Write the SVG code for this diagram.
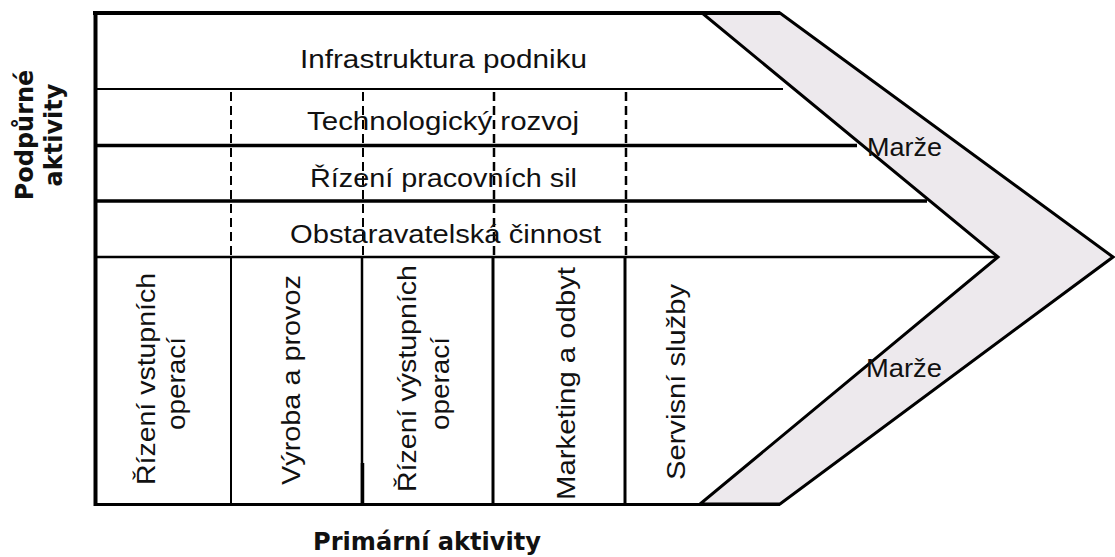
<svg xmlns="http://www.w3.org/2000/svg" width="1115" height="557" viewBox="0 0 1115 557">
<style>
.t{font-family:"Liberation Sans",Arial,sans-serif;font-size:25px;fill:#111}
.lab{font-family:"DejaVu Sans",Verdana,sans-serif;font-weight:bold;font-size:24px;fill:#111}
.ln{stroke:#000;fill:none;stroke-linecap:butt}
.dash{stroke:#000;fill:none;stroke-dasharray:9 5}
</style>
<rect width="1115" height="557" fill="#fff"/>
<g id="margin">
<polygon points="702,13 780,13 1113,257 780,504 700,504 998,257" fill="#EDE9ED" stroke="#000" stroke-width="3" stroke-linejoin="miter"/>
<text class="t" x="867" y="156" textLength="75" lengthAdjust="spacingAndGlyphs">Marže</text>
<text class="t" x="866" y="377" textLength="76" lengthAdjust="spacingAndGlyphs">Marže</text>
</g>
<g id="connectors">
<line class="ln" x1="93" y1="13" x2="780" y2="13" stroke-width="4"/>
<line class="ln" x1="95.5" y1="11" x2="95.5" y2="506" stroke-width="4"/>
<line class="ln" x1="95" y1="504.5" x2="780" y2="504.5" stroke-width="3"/>
<line class="ln" x1="95" y1="89" x2="783" y2="89" stroke-width="2"/>
<line class="ln" x1="95" y1="145.5" x2="857" y2="145.5" stroke-width="3.5"/>
<line class="ln" x1="95" y1="201" x2="927" y2="201" stroke-width="3.5"/>
<line class="ln" x1="95" y1="257" x2="998" y2="257" stroke-width="2.5"/>
<line class="dash" x1="231" y1="92" x2="231" y2="256" stroke-width="2"/>
<line class="dash" x1="363" y1="92" x2="363" y2="256" stroke-width="2"/>
<line class="dash" x1="494" y1="92" x2="494" y2="256" stroke-width="2.5"/>
<line class="dash" x1="626" y1="92" x2="626" y2="256" stroke-width="2.5"/>
<line class="ln" x1="231" y1="257" x2="231" y2="505" stroke-width="2"/>
<line class="ln" x1="362" y1="257" x2="362" y2="505" stroke-width="2.5"/>
<line class="ln" x1="362.5" y1="463" x2="362.5" y2="505" stroke-width="3.5"/>
<line class="ln" x1="493" y1="257" x2="493" y2="505" stroke-width="3"/>
<line class="ln" x1="625" y1="257" x2="625" y2="505" stroke-width="3"/>
</g>
<g id="infrastruktura"><text class="t" x="300" y="68" textLength="287" lengthAdjust="spacingAndGlyphs">Infrastruktura podniku</text></g>
<g id="technologie"><text class="t" x="307" y="130" textLength="272" lengthAdjust="spacingAndGlyphs">Technologický rozvoj</text></g>
<g id="lidske-zdroje"><text class="t" x="310" y="187" textLength="267" lengthAdjust="spacingAndGlyphs">Řízení pracovních sil</text></g>
<g id="obstaravani"><text class="t" x="290" y="243" textLength="311" lengthAdjust="spacingAndGlyphs">Obstaravatelská činnost</text></g>
<g id="vstupni-operace">
<text class="t" transform="translate(155,485) rotate(-90)" textLength="212" lengthAdjust="spacingAndGlyphs">Řízení vstupních</text>
<text class="t" transform="translate(185,430) rotate(-90)" textLength="93" lengthAdjust="spacingAndGlyphs">operací</text>
</g>
<g id="vyroba"><text class="t" transform="translate(300,485) rotate(-90)" textLength="210" lengthAdjust="spacingAndGlyphs">Výroba a provoz</text></g>
<g id="vystupni-operace">
<text class="t" transform="translate(416,492) rotate(-90)" textLength="227" lengthAdjust="spacingAndGlyphs">Řízení výstupních</text>
<text class="t" transform="translate(449,430) rotate(-90)" textLength="93" lengthAdjust="spacingAndGlyphs">operací</text>
</g>
<g id="marketing"><text class="t" transform="translate(575,500) rotate(-90)" textLength="233" lengthAdjust="spacingAndGlyphs">Marketing a odbyt</text></g>
<g id="servis"><text class="t" transform="translate(685,480) rotate(-90)" textLength="196" lengthAdjust="spacingAndGlyphs">Servisní služby</text></g>
<g id="podpurne-aktivity">
<text class="lab" transform="translate(33,135) rotate(-90)" text-anchor="middle">Podpůrné</text>
<text class="lab" transform="translate(62,135) rotate(-90)" text-anchor="middle">aktivity</text>
</g>
<g id="primarni-aktivity"><text class="lab" x="313" y="550" textLength="228" lengthAdjust="spacingAndGlyphs">Primární aktivity</text></g>
</svg>
